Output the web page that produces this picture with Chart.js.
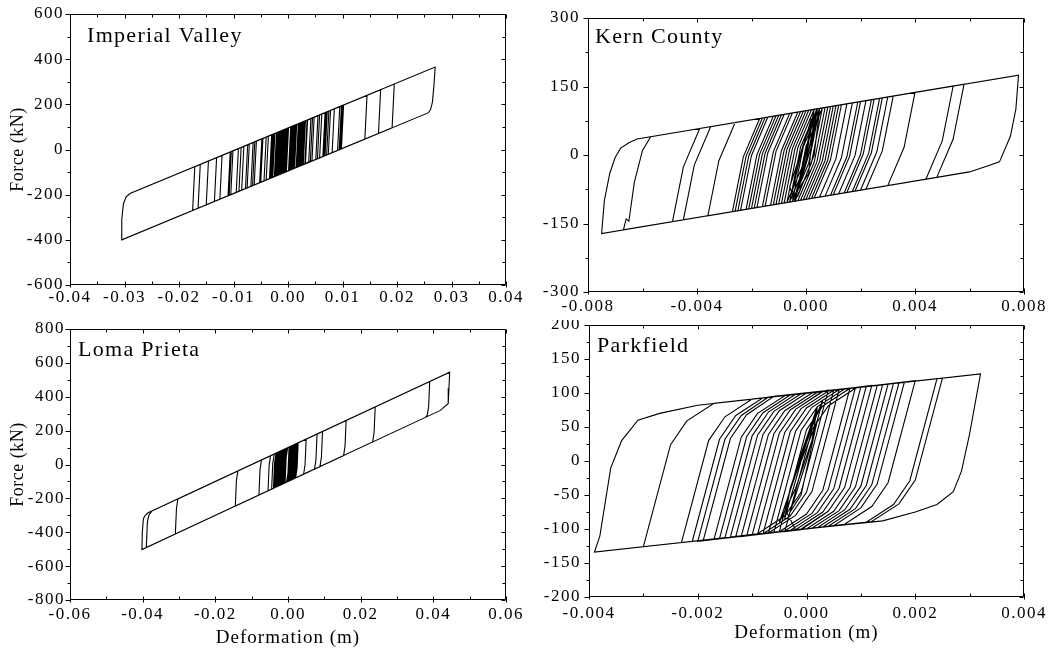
<!DOCTYPE html>
<html>
<head>
<meta charset="utf-8">
<script src="https://cdn.jsdelivr.net/npm/chart.js@4.4.0/dist/chart.umd.min.js"></script>
<style>
  body { margin: 0; background: #ffffff; }
  #wrap { position: relative; width: 1057px; height: 648px; overflow: hidden; background: #ffffff; }
  canvas { position: absolute; }
</style>
</head>
<body>
<div id="wrap">
  <canvas id="imperial" width="527" height="320" style="left:0px;top:0px"></canvas>
  <canvas id="kern" width="530" height="320" style="left:527px;top:0px"></canvas>
  <canvas id="loma" width="527" height="328" style="left:0px;top:320px"></canvas>
  <canvas id="parkfield" width="530" height="328" style="left:527px;top:320px"></canvas>
</div>
<script>
// Imperial Valley: deformation (m) / force (kN)
const imperialDef = [
  -0.001,
  0.003, 0.0026, -0.002, -0.0016, 0.002, 0.0016, -0.003, -0.0026,
  0.0025, 0.0021, -0.001, -0.0006, 0.0015, 0.0011, -0.0015, -0.0011,
  0.001, 0.0006, -0.0025, -0.0021, 0.0005, 0.0001, -0.004, -0.0036,
  0.0035, 0.0031, -0.005, -0.0046, 0.0055, 0.0051, -0.0062, -0.0058,
  0.007, 0.0066, -0.0075, -0.0071, 0.0072, 0.0068, -0.009, -0.0086,
  0.0095, 0.0091, -0.0105, -0.0101, 0.01, 0.0096, -0.011, -0.0106,
  0.0102, 0.0098, -0.0135, -0.0131, 0.0145, 0.0141, -0.015, -0.0146,
  0.017, 0.0166, -0.0165, -0.0161, 0.0195, 0.0191, -0.0175, -0.0171,
  0.027, 0.0268, 0.0265, 0.0262, 0.0258,
  -0.0305, -0.0305, -0.0302, -0.0297, -0.029,
  0.0098, 0.0094, -0.0095, -0.0091, 0.0075, 0.0071, -0.0065, -0.0061,
  0.0045, 0.0041, -0.004, -0.0036, 0.0022, 0.0018, -0.0018, -0.0014,
  0.001, 0.0006, -0.0008, -0.0004, 0.0003,
  0.0012, 0.0008, -0.0022, -0.0018, 0.0028, 0.0024, -0.0012, -0.0008,
  0.0019, 0.0015, -0.0028, -0.0024, 0.0008, 0.0004, -0.0033, -0.0029,
  0.0032, 0.0028, -0.0005, -0.0001, 0.0016, 0.0012, -0.0019, -0.0015,
  0.0024, 0.002, -0.0009, -0.0005, 0.0013, 0.0009, -0.0031, -0.0027,
  0.0005, 0.0001, -0.0023, -0.0019, 0.0027, 0.0023, -0.0003, 0.0001,
  0.0036, 0.0032, -0.0013, -0.0009, 0.0007, 0.0003, -0.0017, -0.0013,
  0.0021, 0.0017, -0.0006, -0.0002,
  0.0062, 0.0058, -0.0085, -0.0081, 0.0085, 0.0081, -0.0052, -0.0048,
  0.0068, 0.0064, -0.0108, -0.0104, 0.0099, 0.0095, -0.0068, -0.0064,
  0.0048, 0.0044, -0.0044, -0.004, 0.0078, 0.0074, -0.0078, -0.0074,
  0.0042, 0.0038, -0.0125, -0.0121, 0.0058, 0.0054, -0.0034, -0.003,
  0.0015
];
const imperialForce = [
  85,
  125, -69, -115, 79, 115, -79, -125, 69,
  120, -74, -105, 89, 110, -84, -110, 84,
  105, -89, -120, 74, 100, -94, -135, 59,
  130, -64, -145, 49, 150, -44, -157, 37,
  165, -29, -170, 24, 167, -27, -185, 9,
  190, -4, -200, -6, 195, 1, -205, -11,
  197, 3, -230, -36, 240, 46, -245, -51,
  265, 71, -260, -66, 290, 96, -270, -76,
  365, 290, 210, 180, 163,
  -400, -310, -240, -210, -195,
  193, -1, -190, 4, 170, -24, -160, 34,
  140, -54, -135, 59, 117, -77, -113, 81,
  105, -89, -103, 91, 98,
  107, -87, -117, 77, 123, -71, -107, 87,
  114, -80, -123, 71, 103, -91, -128, 66,
  127, -67, -100, 94, 111, -83, -114, 80,
  119, -75, -104, 90, 108, -86, -126, 68,
  100, -94, -118, 76, 122, -72, -98, 96,
  131, -63, -108, 86, 102, -92, -112, 82,
  116, -78, -101, 93,
  157, -37, -180, 14, 180, -14, -147, 47,
  163, -31, -203, -9, 194, 0, -163, 31,
  143, -49, -139, 55, 173, -21, -173, 21,
  137, -57, -220, -26, 153, -41, -129, 65,
  110
];

// Kern County
const kernDef = [
  -0.0005,
  0.0006, 0.0002, -0.0004,
  -0.0008, -0.0004, 0.0002,
  0.0005, 0.0001, -0.0005,
  -0.001, -0.0006, 0,
  0.0008, 0.0004, -0.0002,
  -0.0006, -0.0002, 0.0004,
  0.001, 0.0006, 0,
  -0.0012, -0.0008, -0.0002,
  0.0012, 0.0008, 0.0002,
  -0.0015, -0.0011, -0.0005,
  0.0015, 0.0011, 0.0005,
  -0.0018, -0.0014, -0.0008,
  0.0007, 0.0003, -0.0003,
  -0.002, -0.0016, -0.001,
  0.002, 0.0016, 0.001,
  -0.0022, -0.0018, -0.0012,
  0.0024, 0.002, 0.0014,
  -0.0024, -0.002, -0.0014,
  0.0025, 0.0021, 0.0015,
  -0.0026, -0.0022, -0.0016,
  0.0027, 0.0023, 0.0017,
  -0.0027, -0.0023, -0.0017,
  0.003, 0.0026, 0.002,
  -0.0036, -0.0032, -0.0026,
  0.0032, 0.0028, 0.0022,
  -0.0045, -0.0041, -0.0035,
  0.004, 0.0036, 0.003,
  -0.0049, -0.0045, -0.0039,
  0.0054, 0.005, 0.0044,
  -0.0067, -0.0066, -0.0065, -0.0063, -0.006, -0.0057,
  0.0058, 0.0054, 0.0048,
  -0.0075, -0.0074, -0.0072, -0.007, -0.0068, -0.0065, -0.0062,
  0.0078, 0.0077, 0.0075, 0.0071, 0.0066, 0.006,
  -0.0012, -0.0008, -0.0002,
  0.0054, 0.005, 0.0044,
  -0.0009, -0.0005, 0.0001,
  0.0009, 0.0005, -0.0001,
  -0.0004, 0, 0.0006,
  0.0007, 0.0003, -0.0003,
  -0.0006, -0.0002, 0.0004,
  0.0011, 0.0007, 0.0001,
  -0.0013, -0.0009, -0.0003,
  0.0004, 0, -0.0006,
  -0.0009, -0.0005, 0.0001,
  0.0013, 0.0009, 0.0003,
  -0.0004, 0, 0.0006,
  0.0008, 0.0004, -0.0002,
  -0.0016, -0.0012, -0.0006,
  0.0017, 0.0013, 0.0007,
  -0.0007, -0.0003, 0.0003,
  0.0019, 0.0015, 0.0009,
  -0.0019, -0.0015, -0.0009,
  0.0003, -0.0001, -0.0007,
  -0.0011, -0.0007, -0.0001,
  0.0022, 0.0018, 0.0012,
  -0.0021, -0.0017, -0.0011,
  0.0028, 0.0024, 0.0018,
  -0.0025, -0.0021, -0.0015,
  0.001, 0.0006, 0,
  -0.0005, -0.0001, 0.0005,
  0.0006, 0.0002, -0.0004,
  -0.0006, 0, 0.0004, 0.0002, -0.0002, -0.0004, 0.0001, 0.0005, 0.0003, -0.0003,
  -0.0005, -0.0002, 0.0002, 0, -0.0004, 0, 0.0003, 0.0001, -0.0005
];
const kernForce = [
  92,
  103, -17, -101,
  -105, 15, 99,
  102, -18, -102,
  -107, 13, 97,
  105, -15, -99,
  -103, 17, 101,
  107, -13, -97,
  -109, 11, 95,
  109, -11, -95,
  -112, 8, 92,
  112, -8, -92,
  -115, 5, 89,
  104, -16, -100,
  -117, 3, 87,
  117, -3, -87,
  -119, 1, 85,
  121, 1, -83,
  -121, -1, 83,
  122, 2, -82,
  -123, -3, 81,
  124, 4, -80,
  -124, -4, 80,
  127, 7, -77,
  -133, -13, 71,
  129, 9, -75,
  -142, -22, 62,
  137, 17, -67,
  -146, -26, 58,
  151, 31, -53,
  -164, -140, -145, -60, 10, 40,
  155, 35, -49,
  -172, -100, -40, -5, 15, 27, 35,
  175, 100, 41, -15, -25, -37,
  -109, 11, 95,
  151, 31, -53,
  -106, 14, 98,
  106, -14, -98,
  -101, 19, 103,
  104, -16, -100,
  -103, 17, 101,
  108, -12, -96,
  -110, 10, 94,
  101, -19, -103,
  -106, 14, 98,
  110, -10, -94,
  -101, 19, 103,
  105, -15, -99,
  -113, 7, 91,
  114, -6, -90,
  -104, 16, 100,
  116, -4, -88,
  -116, 4, 88,
  100, -20, -104,
  -108, 12, 96,
  119, -1, -85,
  -118, 2, 86,
  125, 5, -79,
  -122, -2, 82,
  107, -13, -97,
  -102, 18, 102,
  103, -17, -101,
  -70, 40, 95, 20, -60, -95, 10, 100, 0, -90,
  -80, 0, 80, -20, -90, 0, 90, -40, -95
];

// Loma Prieta
const lomaDef = [
  -0.001,
  0.002, 0.0017, 0.0013,
  -0.002, -0.0017, -0.0013,
  0.001, 0.0007, 0.0003,
  -0.003, -0.0027, -0.0023,
  0.0025, 0.0022, 0.0018,
  -0.0015, -0.0012, -0.0008,
  0.0015, 0.0012, 0.0008,
  -0.0035, -0.0032, -0.0028,
  0.0005, 0.0002, -0.0002,
  -0.004, -0.0037, -0.0033,
  0.005, 0.0047, 0.0043,
  -0.0055, -0.0052, -0.0048,
  0.008, 0.0077, 0.0073,
  -0.008, -0.0077, -0.0073,
  0.0095, 0.0092, 0.0088,
  -0.0145, -0.0142, -0.0138,
  0.016, 0.0157, 0.0153,
  -0.031, -0.0307, -0.0303,
  0.024, 0.0237, 0.0233,
  -0.039, -0.0387, -0.0383, -0.0375,
  0.039, 0.0387, 0.0383, 0.0378,
  -0.0402, -0.0401, -0.0398, -0.0393, -0.0385,
  0.0445, 0.0443, 0.0441, 0.0425, 0.0418,
  -0.0025, -0.0022, -0.0018,
  0.0018, 0.0015, 0.0011,
  -0.001, -0.0007, -0.0003,
  0.0022, 0.0019, 0.0015,
  -0.0032, -0.0029, -0.0025,
  0.0012, 0.0009, 0.0005,
  -0.0022, -0.0019, -0.0015,
  0.0021, 0.0018, 0.0014,
  -0.0038, -0.0035, -0.0031,
  0.0003, 0, -0.0004,
  -0.0027, -0.0024, -0.002,
  0.0008, 0.0005, 0.0001,
  -0.0012, -0.0009, -0.0005,
  0.0024, 0.0021, 0.0017,
  -0.0045, -0.0042, -0.0038,
  0.0017, 0.0014, 0.001,
  -0.0018, -0.0015, -0.0011,
  0.0006, 0.0003, -0.0001,
  -0.003, -0.0027, -0.0023,
  0.0028, 0.0025, 0.0021,
  -0.0008, -0.0005, -0.0001
];
const lomaForce = [
  90,
  120, -30, -87,
  -120, 30, 87,
  110, -40, -97,
  -130, 20, 77,
  125, -25, -82,
  -115, 35, 92,
  115, -35, -92,
  -135, 15, 72,
  105, -45, -102,
  -140, 10, 67,
  150, 0, -57,
  -155, -5, 52,
  180, 30, -27,
  -180, -30, 27,
  195, 45, -12,
  -245, -95, -38,
  260, 110, 53,
  -410, -260, -203,
  340, 190, 133,
  -490, -340, -300, -275,
  490, 340, 290, 278,
  -502, -400, -320, -300, -285,
  545, 450, 360, 330, 318,
  -125, 25, 82,
  118, -32, -89,
  -110, 40, 97,
  122, -28, -85,
  -132, 18, 75,
  112, -38, -95,
  -122, 28, 85,
  121, -29, -86,
  -138, 12, 69,
  103, -47, -104,
  -127, 23, 80,
  108, -42, -99,
  -112, 38, 95,
  124, -26, -83,
  -145, 5, 62,
  117, -33, -90,
  -118, 32, 89,
  106, -44, -101,
  -130, 20, 77,
  128, -22, -79,
  -108, 42, 99
];

// Parkfield
const parkDef = [
  -0.0005,
  0.0006, 0.0001, -0.0002, -0.0007,
  -0.0009, -0.0004, -0.0001, 0.0004,
  0.0009, 0.0004, 0.0001, -0.0004,
  -0.0006, -0.0001, 0.0002, 0.0007,
  0.0011, 0.0006, 0.0003, -0.0002,
  -0.0012, -0.0007, -0.0004, 0.0001,
  0.0004, -0.0001, -0.0004, -0.0009,
  -0.0014, -0.0009, -0.0006, -0.0001,
  0.0013, 0.0008, 0.0005, 0,
  -0.0007, -0.0002, 0.0001, 0.0006,
  0.0017, 0.0012, 0.0009, 0.0004,
  -0.0019, -0.0014, -0.0011, -0.0006,
  0.0016, 0.0011, 0.0008, 0.0003,
  -0.002, -0.0015, -0.0012, -0.0007,
  0.001, 0.0005, 0.0002, -0.0003,
  -0.0023, -0.0018, -0.0015, -0.001,
  0.0024, 0.0019, 0.0016, 0.0011,
  -0.001, -0.0005, -0.0002, 0.0003,
  0.0025, 0.002, 0.0017, 0.0012,
  -0.003, -0.0025, -0.0022, -0.0017,
  0.0024, 0.0019, 0.0016, 0.0011,
  -0.0039, -0.0038, -0.0036, -0.0035, -0.0034, -0.0031, -0.0027, -0.002,
  0.0032, 0.003, 0.00285, 0.0027, 0.0024, 0.002, 0.0014,
  -0.0005, 0, 0.0003, 0.0008,
  0.0011, 0.0006, 0.0003, -0.0002,
  -0.0008, -0.0003, 0, 0.0005,
  0.0012, 0.0007, 0.0004, -0.0001,
  -0.0004, 0.0001, 0.0004, 0.0009,
  0.001, 0.0005, 0.0002, -0.0003,
  -0.0013, -0.0008, -0.0005, 0,
  0.0014, 0.0009, 0.0006, 0.0001,
  -0.0011, -0.0006, -0.0003, 0.0002,
  0.0008, 0.0003, 0, -0.0005,
  -0.0016, -0.0011, -0.0008, -0.0003,
  0.0018, 0.0013, 0.001, 0.0005,
  -0.0008, -0.0003, 0, 0.0005,
  0.0015, 0.001, 0.0007, 0.0002,
  -0.0015, -0.001, -0.0007, -0.0002,
  0.0005, 0, -0.0003, -0.0008,
  -0.0021, -0.0016, -0.0013, -0.0008,
  0.0012, 0.0007, 0.0004, -0.0001,
  -0.0006, -0.0001, 0.0002, 0.0007,
  0.002, 0.0015, 0.0012, 0.0007,
  -0.0012, -0.0007, -0.0004, 0.0001,
  0.0009, 0.0004, 0.0001, -0.0004,
  -0.0017, -0.0012, -0.0009, -0.0004,
  0.0013, 0.0008, 0.0005, 0,
  -0.0009, -0.0004, -0.0001, 0.0004,
  0.0006, 0.0001, -0.0002, -0.0007,
  -0.001, -0.0005, -0.0002, 0.0003,
  0.0011, 0.0006, 0.0003, -0.0002,
  -0.0004, -0.0001, 0.0002, 0.0001, -0.0002, -0.0005, -0.0002, 0.0001, 0.0003,
  0, -0.0003, -0.0001, 0.0002, -0.0001, -0.0004, -0.0003, 0, 0.0002
];
const parkForce = [
  96,
  105, -45, -80, -106,
  -108, 42, 77, 103,
  108, -42, -77, -103,
  -105, 45, 80, 106,
  110, -40, -75, -101,
  -111, 39, 74, 100,
  104, -46, -81, -107,
  -112, 38, 73, 99,
  111, -39, -74, -100,
  -106, 44, 79, 105,
  115, -35, -70, -96,
  -117, 33, 68, 95,
  114, -36, -71, -97,
  -118, 32, 67, 94,
  109, -41, -76, -102,
  -120, 30, 65, 91,
  121, -29, -64, -90,
  -109, 41, 76, 103,
  122, -28, -63, -89,
  -126, 24, 59, 85,
  121, -29, -64, -90,
  -134, -110, -10, 10, 30, 60, 70, 82,
  128, 40, -15, -45, -64, -75, -88,
  -104, 46, 81, 107,
  110, -40, -75, -101,
  -107, 43, 78, 104,
  111, -39, -74, -101,
  -104, 46, 81, 107,
  109, -41, -76, -102,
  -111, 39, 74, 100,
  112, -38, -73, -99,
  -110, 40, 75, 101,
  107, -43, -78, -104,
  -114, 36, 71, 97,
  116, -34, -69, -95,
  -107, 43, 78, 104,
  113, -37, -72, -98,
  -113, 37, 72, 98,
  104, -46, -81, -107,
  -118, 32, 67, 93,
  111, -39, -74, -100,
  -105, 45, 80, 106,
  118, -32, -67, -93,
  -111, 39, 74, 100,
  108, -42, -77, -103,
  -115, 35, 70, 96,
  111, -39, -74, -100,
  -108, 42, 77, 103,
  105, -45, -80, -106,
  -109, 41, 76, 102,
  110, -40, -75, -101,
  -70, 10, 80, 30, -40, -90, -20, 50, 90,
  0, -75, -50, 60, 0, -85, -40, 30, 75
];

const FONT = "Liberation Serif";

// frame with inward/outward ticks, panel name and axis titles
const framePlugin = {
  id: "frame",
  beforeDraw(chart) {
    chart.ctx.letterSpacing = "1.5px";
  },
  afterDraw(chart, args, opts) {
    const { ctx, chartArea: a } = chart;
    const x = chart.scales.x;
    const y = chart.scales.y;
    const L = Math.round(a.left) + 0.5;
    const R = Math.round(a.right) - 0.5;
    const T = Math.round(a.top) + 0.5;
    const B = Math.round(a.bottom) - 0.5;

    ctx.save();
    ctx.strokeStyle = "#000";
    ctx.lineWidth = 1;
    ctx.beginPath();
    ctx.rect(L, T, R - L, B - T);

    const xHalf = opts.xStep / 2;
    for (let i = 0; x.min + i * xHalf <= x.max + xHalf * 0.01; i++) {
      const px = Math.round(x.getPixelForValue(x.min + i * xHalf)) + 0.5;
      const major = i % 2 === 0;
      ctx.moveTo(px, B + (major ? 3 : 0));
      ctx.lineTo(px, B - 3);
      ctx.moveTo(px, T);
      ctx.lineTo(px, T + (major ? 4 : 3));
    }
    const yHalf = opts.yStep / 2;
    for (let i = 0; y.min + i * yHalf <= y.max + yHalf * 0.01; i++) {
      const py = Math.round(y.getPixelForValue(y.min + i * yHalf)) + 0.5;
      const major = i % 2 === 0;
      ctx.moveTo(L - (major ? 5 : 3), py);
      ctx.lineTo(L, py);
      ctx.moveTo(R, py);
      ctx.lineTo(R - (major ? 4 : 3), py);
    }
    ctx.stroke();

    ctx.fillStyle = "#000";
    ctx.textAlign = "left";
    ctx.textBaseline = "alphabetic";
    ctx.font = `22px "${FONT}"`;
    ctx.letterSpacing = "1.3px";
    ctx.fillText(opts.name, a.left + opts.nameX, a.top + opts.nameY);

    if (opts.yTitle) {
      ctx.save();
      ctx.translate(18, (a.top + a.bottom) / 2);
      ctx.rotate(-Math.PI / 2);
      ctx.textAlign = "center";
      ctx.textBaseline = "middle";
      ctx.font = `18px "${FONT}"`;
      ctx.letterSpacing = "0.5px";
      ctx.fillText("Force (kN)", 0, 0);
      ctx.restore();
    }
    if (opts.xTitleY) {
      ctx.textAlign = "center";
      ctx.textBaseline = "middle";
      ctx.font = `19px "${FONT}"`;
      ctx.letterSpacing = "1px";
      ctx.fillText("Deformation (m)", (a.left + a.right) / 2, opts.xTitleY);
    }
    ctx.restore();
  }
};

class HysteresisPlot {
  constructor(canvasId) {
    this.canvas = document.getElementById(canvasId);
    this.ctx = this.canvas.getContext("2d");
    this.chart = null;
  }

  update(defs, forces, p) {
    const points = defs.map((d, i) => ({ x: d, y: forces[i] }));
    this.chart = new Chart(this.ctx, {
      type: "scatter",
      data: {
        datasets: [{
          data: points,
          showLine: true,
          borderColor: "#000000",
          borderWidth: 1.1,
          pointRadius: 0,
          tension: 0,
          fill: false
        }]
      },
      plugins: [framePlugin],
      options: {
        responsive: false,
        animation: false,
        events: [],
        layout: { padding: { top: p.padTop, right: p.padRight, left: 0, bottom: 0 } },
        plugins: {
          legend: { display: false },
          tooltip: { enabled: false },
          frame: {
            xStep: p.xStep,
            yStep: p.yStep,
            name: p.name,
            nameX: p.nameX,
            nameY: p.nameY,
            yTitle: p.yTitle,
            xTitleY: p.xTitleY
          }
        },
        scales: {
          x: {
            type: "linear",
            min: p.xMin,
            max: p.xMax,
            grid: { display: false, drawTicks: false },
            border: { display: false },
            ticks: {
              stepSize: p.xStep,
              autoSkip: false,
              maxRotation: 0,
              padding: p.xPad,
              color: "#000",
              font: { family: FONT, size: 17 },
              callback: (v) => (Math.abs(v) < 1e-12 ? 0 : v).toFixed(p.xDec)
            },
            afterFit: (s) => {
              s.height = p.xHeight;
              s.paddingLeft = 0;
              s.paddingRight = 0;
            }
          },
          y: {
            type: "linear",
            min: p.yMin,
            max: p.yMax,
            grid: { display: false, drawTicks: false },
            border: { display: false },
            ticks: {
              stepSize: p.yStep,
              autoSkip: false,
              padding: p.yPad,
              color: "#000",
              font: { family: FONT, size: 17 },
              callback: (v) => String(Math.round(v))
            },
            afterFit: (s) => {
              s.width = p.yWidth;
              s.paddingTop = 0;
              s.paddingBottom = 0;
            }
          }
        }
      }
    });
  }
}

new HysteresisPlot("imperial").update(imperialDef, imperialForce, {
  name: "Imperial Valley", nameX: 17, nameY: 28,
  padTop: 14, padRight: 21, yWidth: 70, xHeight: 35,
  xMin: -0.04, xMax: 0.04, xStep: 0.01, xDec: 2, xPad: 2,
  yMin: -600, yMax: 600, yStep: 200, yPad: 6,
  yTitle: true, xTitleY: 0
});
new HysteresisPlot("kern").update(kernDef, kernForce, {
  name: "Kern County", nameX: 7, nameY: 25,
  padTop: 18, padRight: 33, yWidth: 61, xHeight: 28,
  xMin: -0.008, xMax: 0.008, xStep: 0.004, xDec: 3, xPad: 4,
  yMin: -300, yMax: 300, yStep: 150, yPad: 8,
  yTitle: false, xTitleY: 0
});
new HysteresisPlot("loma").update(lomaDef, lomaForce, {
  name: "Loma Prieta", nameX: 8, nameY: 27,
  padTop: 9, padRight: 21, yWidth: 70, xHeight: 48,
  xMin: -0.06, xMax: 0.06, xStep: 0.02, xDec: 2, xPad: 4,
  yMin: -800, yMax: 800, yStep: 200, yPad: 5,
  yTitle: true, xTitleY: 318
});
new HysteresisPlot("parkfield").update(parkDef, parkForce, {
  name: "Parkfield", nameX: 8, nameY: 27,
  padTop: 5, padRight: 33, yWidth: 62, xHeight: 51,
  xMin: -0.004, xMax: 0.004, xStep: 0.002, xDec: 3, xPad: 6,
  yMin: -200, yMax: 200, yStep: 50, yPad: 8,
  yTitle: false, xTitleY: 313
});
</script>
</body>
</html>
